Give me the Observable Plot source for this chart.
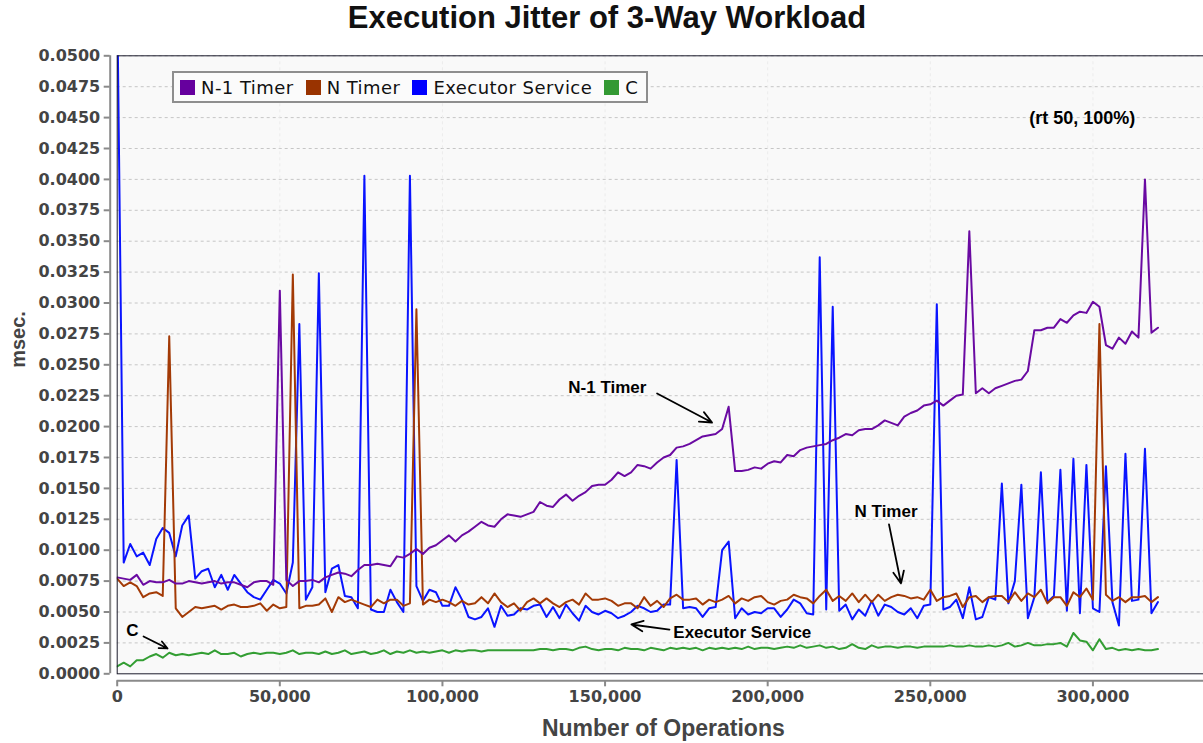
<!DOCTYPE html>
<html>
<head>
<meta charset="utf-8">
<script src="https://cdn.jsdelivr.net/npm/d3@7"></script>
<script src="https://cdn.jsdelivr.net/npm/@observablehq/plot@0.6"></script>
<style>
  body { margin: 0; background: #fff; }
  #wrap { position: relative; width: 1203px; height: 743px; overflow: hidden; background: #fff; }
  #title { height: 44px; line-height: 56px; text-align: center; font: bold 31px "Liberation Sans", Arial, sans-serif; color: #111; padding-left: 11px; box-sizing: border-box; white-space: nowrap; overflow: visible; }
  #legend { position: absolute; left: 172px; top: 71px; height: 32px; box-sizing: border-box; border: 2px solid #8e8e8e; background: #fbfbfb; display: flex; align-items: center; padding: 0 8px 0 6px; font: 18px "DejaVu Sans", sans-serif; letter-spacing: 0.45px; color: #111; white-space: nowrap; }
  #legend .item { display: flex; align-items: center; margin-right: 12px; }
  #legend .item:last-child { margin-right: 0; }
  #legend .sw { width: 15px; height: 15px; margin-right: 6px; }
</style>
</head>
<body>
<div id="wrap">
  <div id="title">Execution Jitter of 3-Way Workload</div>
  <div id="chart"></div>
  <div id="legend"></div>
</div>
<script>
// ---- data ----
const ops = d3.range(0, 320001, 2000); // sampling positions: Number of Operations

const n1Timer = [
  0.0078,0.0077,0.0076,0.0080,0.0072,0.0075,0.0074,0.0074,0.0076,0.0073,
  0.0073,0.0075,0.0074,0.0073,0.0074,0.0075,0.0073,0.0074,0.0074,0.0072,
  0.0070,0.0074,0.0075,0.0075,0.0072,0.0310,0.0076,0.0071,0.0075,0.0075,
  0.0076,0.0074,0.0078,0.0080,0.0082,0.0081,0.0079,0.0084,0.0088,0.0088,
  0.0089,0.0088,0.0087,0.0095,0.0094,0.0097,0.0101,0.0097,0.0102,0.0104,
  0.0108,0.0112,0.0107,0.0112,0.0115,0.0119,0.0123,0.0120,0.0119,0.0125,
  0.0129,0.0128,0.0127,0.0129,0.0131,0.0139,0.0136,0.0135,0.0141,0.0145,
  0.0140,0.0144,0.0147,0.0152,0.0153,0.0153,0.0157,0.0163,0.0160,0.0163,
  0.0169,0.0168,0.0166,0.0171,0.0175,0.0177,0.0183,0.0184,0.0186,0.0189,
  0.0192,0.0193,0.0194,0.0198,0.0216,0.0164,0.0164,0.0165,0.0167,0.0166,
  0.0170,0.0172,0.0171,0.0177,0.0176,0.0181,0.0183,0.0184,0.0185,0.0186,
  0.0189,0.0191,0.0194,0.0193,0.0197,0.0198,0.0198,0.0201,0.0205,0.0203,
  0.0201,0.0208,0.0211,0.0213,0.0217,0.0218,0.0221,0.0217,0.0221,0.0225,
  0.0226,0.0358,0.0227,0.0231,0.0227,0.0231,0.0233,0.0235,0.0237,0.0238,
  0.0245,0.0278,0.0278,0.0280,0.0280,0.0287,0.0284,0.0290,0.0293,0.0292,
  0.0301,0.0297,0.0266,0.0263,0.0272,0.0267,0.0277,0.0272,0.0400,0.0276,0.0280
];

const nTimer = [
  0.0077,0.0071,0.0074,0.0071,0.0062,0.0065,0.0066,0.0063,0.0273,0.0053,
  0.0046,0.0050,0.0054,0.0053,0.0054,0.0055,0.0052,0.0055,0.0056,0.0054,
  0.0054,0.0055,0.0057,0.0051,0.0056,0.0053,0.0054,0.0323,0.0053,0.0055,
  0.0055,0.0056,0.0061,0.0050,0.0062,0.0058,0.0060,0.0058,0.0056,0.0054,
  0.0060,0.0057,0.0060,0.0060,0.0055,0.0057,0.0295,0.0056,0.0060,0.0058,
  0.0060,0.0058,0.0055,0.0059,0.0056,0.0057,0.0062,0.0057,0.0065,0.0058,
  0.0054,0.0057,0.0051,0.0058,0.0061,0.0057,0.0061,0.0057,0.0054,0.0058,
  0.0060,0.0056,0.0065,0.0060,0.0060,0.0061,0.0059,0.0055,0.0057,0.0057,
  0.0053,0.0062,0.0055,0.0059,0.0054,0.0061,0.0064,0.0060,0.0060,0.0061,
  0.0056,0.0060,0.0058,0.0060,0.0063,0.0057,0.0061,0.0059,0.0062,0.0063,
  0.0058,0.0056,0.0059,0.0060,0.0064,0.0062,0.0061,0.0057,0.0063,0.0068,
  0.0059,0.0063,0.0059,0.0065,0.0058,0.0064,0.0058,0.0064,0.0059,0.0062,
  0.0064,0.0063,0.0061,0.0062,0.0060,0.0068,0.0059,0.0062,0.0063,0.0065,
  0.0054,0.0062,0.0063,0.0058,0.0062,0.0063,0.0063,0.0058,0.0066,0.0059,
  0.0065,0.0062,0.0068,0.0057,0.0062,0.0062,0.0055,0.0066,0.0062,0.0069,
  0.0060,0.0283,0.0064,0.0059,0.0062,0.0058,0.0062,0.0062,0.0063,0.0058,0.0062
];

const executorService = [
  0.0550,0.0090,0.0105,0.0095,0.0098,0.0088,0.0109,0.0118,0.0114,0.0095,
  0.0120,0.0128,0.0077,0.0083,0.0085,0.0070,0.0080,0.0068,0.0080,0.0073,
  0.0066,0.0062,0.0060,0.0068,0.0076,0.0073,0.0065,0.0090,0.0283,0.0060,
  0.0070,0.0324,0.0066,0.0085,0.0088,0.0063,0.0062,0.0053,0.0403,0.0052,
  0.0050,0.0050,0.0068,0.0058,0.0050,0.0403,0.0071,0.0059,0.0068,0.0066,
  0.0055,0.0055,0.0070,0.0060,0.0046,0.0044,0.0046,0.0053,0.0038,0.0055,
  0.0047,0.0048,0.0053,0.0052,0.0055,0.0056,0.0046,0.0054,0.0045,0.0056,
  0.0049,0.0043,0.0055,0.0050,0.0048,0.0051,0.0049,0.0045,0.0047,0.0050,
  0.0055,0.0053,0.0050,0.0051,0.0056,0.0056,0.0173,0.0053,0.0054,0.0053,
  0.0046,0.0053,0.0054,0.0100,0.0107,0.0045,0.0053,0.0048,0.0050,0.0049,
  0.0053,0.0053,0.0046,0.0052,0.0060,0.0057,0.0049,0.0048,0.0337,0.0052,
  0.0297,0.0051,0.0056,0.0044,0.0052,0.0047,0.0059,0.0047,0.0056,0.0054,
  0.0050,0.0048,0.0053,0.0045,0.0055,0.0056,0.0299,0.0052,0.0054,0.0060,
  0.0045,0.0070,0.0044,0.0046,0.0062,0.0060,0.0154,0.0057,0.0075,0.0153,
  0.0045,0.0062,0.0163,0.0058,0.0063,0.0165,0.0051,0.0174,0.0049,0.0169,
  0.0053,0.0050,0.0168,0.0058,0.0039,0.0178,0.0059,0.0060,0.0182,0.0049,0.0058
];

const cSeries = [
  0.0006,0.0009,0.0006,0.0011,0.0011,0.0014,0.0016,0.0013,0.0017,0.0015,
  0.0016,0.0015,0.0016,0.0017,0.0016,0.0019,0.0016,0.0016,0.0017,0.0014,
  0.0016,0.0017,0.0016,0.0017,0.0017,0.0016,0.0017,0.0019,0.0016,0.0017,
  0.0017,0.0016,0.0018,0.0016,0.0017,0.0019,0.0016,0.0017,0.0018,0.0016,
  0.0017,0.0019,0.0016,0.0018,0.0017,0.0019,0.0017,0.0018,0.0017,0.0018,
  0.0019,0.0017,0.0019,0.0018,0.0019,0.0019,0.0018,0.0019,0.0019,0.0019,
  0.0019,0.0019,0.0019,0.0019,0.0019,0.0020,0.0020,0.0019,0.0020,0.0020,
  0.0019,0.0021,0.0022,0.0020,0.0019,0.0020,0.0020,0.0019,0.0021,0.0020,
  0.0020,0.0019,0.0021,0.0020,0.0019,0.0021,0.0020,0.0021,0.0020,0.0021,
  0.0019,0.0021,0.0020,0.0021,0.0020,0.0021,0.0020,0.0022,0.0020,0.0021,
  0.0021,0.0020,0.0021,0.0022,0.0021,0.0023,0.0021,0.0022,0.0023,0.0021,
  0.0022,0.0020,0.0021,0.0024,0.0021,0.0020,0.0023,0.0021,0.0022,0.0022,
  0.0021,0.0022,0.0022,0.0021,0.0022,0.0022,0.0022,0.0022,0.0023,0.0022,
  0.0022,0.0023,0.0022,0.0022,0.0023,0.0022,0.0023,0.0025,0.0022,0.0023,
  0.0025,0.0023,0.0023,0.0024,0.0024,0.0025,0.0022,0.0033,0.0027,0.0026,
  0.0019,0.0028,0.0020,0.0021,0.0019,0.0020,0.0019,0.0020,0.0019,0.0019,0.0020
];

const seriesNames = ["N-1 Timer", "N Timer", "Executor Service", "C"];
const seriesColors = ["#6a0aa2", "#a33a06", "#0a14ff", "#339e33"];
const legendColors = ["#66009e", "#993300", "#0000ff", "#339933"];

const yTicks = d3.range(0, 0.05 + 1e-9, 0.0025);
const xTicks = [0, 50000, 100000, 150000, 200000, 250000, 300000];

// annotations (in data coordinates)
const annLabels = ["N-1 Timer", "N Timer", "Executor Service", "C"];
const annOps = [150700, 236400, 192200, 4700];
const annValues = [0.02317, 0.01313, 0.00334, 0.00350];
const arrowFromOps = [166000, 237300, 169800, 8100];
const arrowFromValues = [0.02268, 0.01209, 0.00358, 0.00302];
const arrowToOps = [182900, 241000, 158100, 15500];
const arrowToValues = [0.02033, 0.00731, 0.00399, 0.00205];
const noteLabel = ["(rt 50, 100%)"];
const noteOps = [296700];
const noteValues = [0.04493];

// ---- build tables ----
const allSeries = [n1Timer, nTimer, executorService, cSeries];
const rows = [];
allSeries.forEach((vals, i) => vals.forEach((v, j) => rows.push({series: seriesNames[i], ops: ops[j], value: v})));
const annRows = annLabels.map((t, i) => ({text: t, x: annOps[i], y: annValues[i]}));
const arrowRows = annLabels.map((t, i) => ({x1: arrowFromOps[i], y1: arrowFromValues[i], x2: arrowToOps[i], y2: arrowToValues[i]}));
const noteRows = noteLabel.map((t, i) => ({text: t, x: noteOps[i], y: noteValues[i]}));

const lineMarks = [3, 2, 1, 0].map(i => Plot.line(rows.filter(r => r.series === seriesNames[i]), {
  x: "ops", y: "value", stroke: seriesColors[i], strokeWidth: 2, clip: true, curve: "linear"
}));

const bold = "Liberation Sans, Arial, sans-serif";

const chart = Plot.plot({
  width: 1203,
  height: 699,
  marginTop: 11.3,
  marginBottom: 69.7,
  marginLeft: 116.7,
  marginRight: 0,
  style: {background: "transparent", overflow: "visible"},
  x: {domain: [0, 334000]},
  y: {domain: [0, 0.05]},
  marks: [
    Plot.frame({fill: "#f9f9f9", stroke: null}),
    Plot.gridY(yTicks.slice(1), {stroke: "#c6c6c6", strokeOpacity: 1, strokeDasharray: "3,3"}),
    Plot.gridX(xTicks.slice(1), {stroke: "#ececec", strokeOpacity: 1, strokeDasharray: "3,3"}),
    ...lineMarks,
    Plot.frame({stroke: "#1c1c2c", strokeWidth: 1}),
    Plot.ruleX([0], {dx: -7, stroke: "#8a8a8a", strokeWidth: 2}),
    Plot.ruleY([0], {dy: 7, stroke: "#8a8a8a", strokeWidth: 2}),
    Plot.axisY(yTicks, {tickFormat: d3.format(".4f"), dx: -7, tickSize: 6, tickPadding: 4,
      fontSize: 16, fontWeight: "bold", fontFamily: "DejaVu Sans", fill: "#444", stroke: "#8a8a8a", strokeWidth: 2, label: null}),
    Plot.axisX(xTicks, {tickFormat: d3.format(","), dy: 7, tickSize: 6, tickPadding: 4,
      fontSize: 16, fontWeight: "bold", fontFamily: "DejaVu Sans", fill: "#444", stroke: "#8a8a8a", strokeWidth: 2, label: null}),
    Plot.text(["msec."], {text: d => d, frameAnchor: "left", dx: -99, dy: 3, rotate: -90,
      fontSize: 20, fontWeight: "bold", fontFamily: bold, fill: "#444"}),
    Plot.text(["Number of Operations"], {text: d => d, frameAnchor: "bottom", dy: 62, dx: 3,
      fontSize: 23, fontWeight: "bold", fontFamily: bold, fill: "#444"}),
    Plot.arrow(arrowRows, {x1: "x1", y1: "y1", x2: "x2", y2: "y2", stroke: "#000", strokeWidth: 1.8, headLength: 11, headAngle: 48, ariaLabel: "pointer"}),
    Plot.text(annRows, {x: "x", y: "y", text: "text", fontSize: 17, fontWeight: "bold", fontFamily: bold, fill: "#000", ariaLabel: "annotation"}),
    Plot.text(noteRows, {x: "x", y: "y", text: "text", fontSize: 18, fontWeight: "bold", fontFamily: bold, fill: "#000", ariaLabel: "annotation"})
  ]
});

document.getElementById("chart").append(chart);

// filled arrow heads
d3.select(chart).selectAll('g[aria-label="pointer"] path').attr("fill", "#000").style("fill", "#000");

// white boxes behind annotation texts
d3.select(chart).selectAll('g[aria-label="annotation"] text').each(function () {
  const b = this.getBBox();
  const rect = document.createElementNS("http://www.w3.org/2000/svg", "rect");
  rect.setAttribute("x", b.x - 3);
  rect.setAttribute("y", b.y - 1);
  rect.setAttribute("width", b.width + 6);
  rect.setAttribute("height", b.height + 2);
  rect.setAttribute("fill", "#fff");
  const tr = this.getAttribute("transform");
  if (tr) rect.setAttribute("transform", tr);
  this.parentNode.insertBefore(rect, this);
});

// legend
const legend = d3.select("#legend");
seriesNames.forEach((name, i) => {
  const item = legend.append("div").attr("class", "item");
  item.append("div").attr("class", "sw").style("background", legendColors[i]);
  item.append("span").text(name);
});
</script>
</body>
</html>
